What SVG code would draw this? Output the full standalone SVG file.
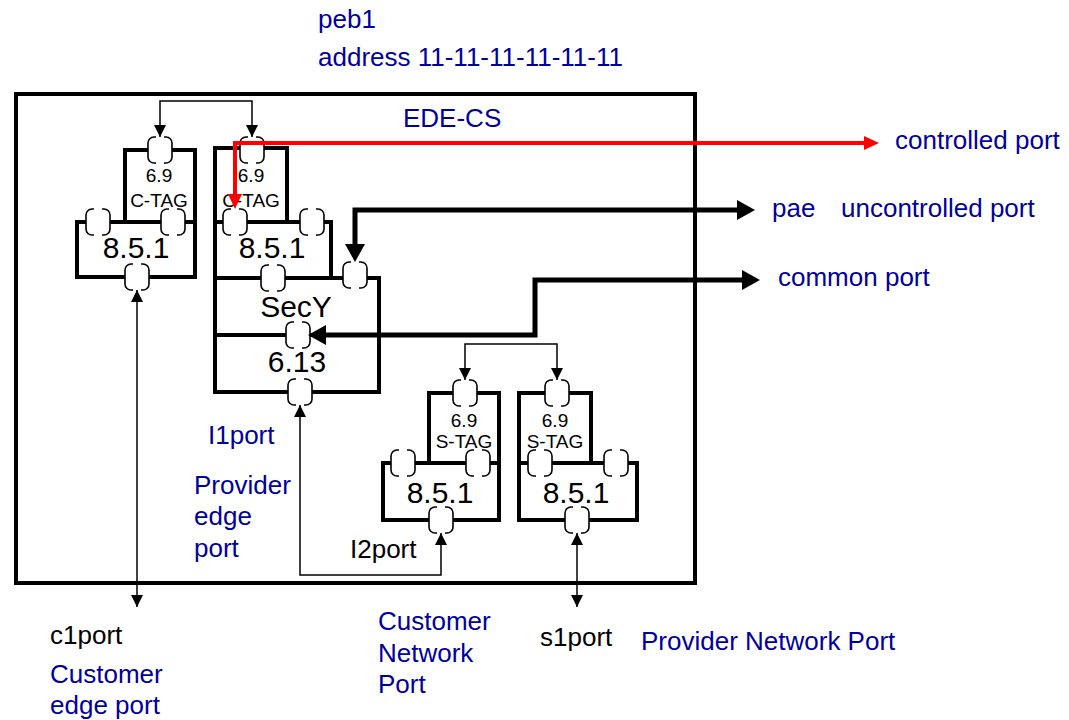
<svg xmlns="http://www.w3.org/2000/svg" width="1069" height="720" viewBox="0 0 1069 720">
<style>
text{font-family:"Liberation Sans",Arial,sans-serif}
.lb{font-size:26px;fill:#00009c}
.bk{font-size:26px;fill:#000}
.box{fill:none;stroke:#000;stroke-width:4;stroke-linejoin:miter}
.big{font-size:30px;text-anchor:middle}
.sm{font-size:19px;text-anchor:middle}
.thin{fill:none;stroke:#000;stroke-width:1.5}
.thick{fill:none;stroke:#000;stroke-width:5}
.red{fill:none;stroke:#ff0000;stroke-width:4}
.pb{fill:none;stroke:#000;stroke-width:1.6}
</style>
<defs>
<g id="port">
<rect x="-12" y="-13" width="24" height="26" rx="6" fill="#fff"/>
<path class="pb" d="M-4,-13 H-6 A6,6 0 0 0 -12,-7 V7 A6,6 0 0 0 -6,13 H-4 M4,-13 H6 A6,6 0 0 1 12,-7 V7 A6,6 0 0 1 6,13 H4"/>
</g>
<marker id="a" viewBox="0 0 12 12" refX="12" refY="6" markerWidth="12" markerHeight="12" markerUnits="userSpaceOnUse" orient="auto-start-reverse"><path d="M0,0 L12,6 L0,12 z" fill="#000"/></marker>
<marker id="tk" viewBox="0 0 18 20" refX="1" refY="10" markerWidth="18" markerHeight="20" markerUnits="userSpaceOnUse" orient="auto-start-reverse"><path d="M0,0 L18,10 L0,20 z" fill="#000"/></marker>
<marker id="rd" viewBox="0 0 15 14" refX="1" refY="7" markerWidth="15" markerHeight="14" markerUnits="userSpaceOnUse" orient="auto-start-reverse"><path d="M0,0 L15,7 L0,14 z" fill="#ff0000"/></marker>
</defs>
<rect width="1069" height="720" fill="#fff"/>

<g id="peb1">
<rect class="box" x="16" y="94" width="679" height="489"/>
<text class="lb" x="318" y="28">peb1</text>
<text class="lb" x="318" y="66">address 11-11-11-11-11-11</text>
<text class="lb" x="403" y="127">EDE-CS</text>
</g>

<g id="ctag-left">
<rect class="box" x="125" y="150" width="70" height="72"/>
<rect class="box" x="77" y="222" width="118" height="55"/>
<text class="sm" x="159" y="182">6.9</text>
<text class="sm" x="159" y="207">C-TAG</text>
<text class="big" x="136" y="258">8.5.1</text>
<use href="#port" x="160" y="150"/>
<use href="#port" x="98" y="222"/>
<use href="#port" x="173" y="222"/>
<use href="#port" x="137" y="277"/>
</g>

<g id="ctag-secy">
<rect class="box" x="215" y="148" width="72" height="74"/>
<rect class="box" x="215" y="222" width="116" height="56"/>
<rect class="box" x="215" y="278" width="164" height="57"/>
<rect class="box" x="215" y="335" width="164" height="57"/>
<text class="sm" x="251" y="182">6.9</text>
<text class="sm" x="251" y="207">C-TAG</text>
<text class="big" x="272" y="258">8.5.1</text>
<text class="big" x="296" y="317">SecY</text>
<text class="big" x="297" y="372">6.13</text>
<use href="#port" x="252" y="150"/>
<use href="#port" x="235" y="222"/>
<use href="#port" x="312" y="222"/>
<use href="#port" x="273" y="278"/>
<use href="#port" x="355" y="275"/>
<use href="#port" x="298" y="335"/>
<use href="#port" x="300" y="392"/>
</g>

<g id="stag-left">
<rect class="box" x="429" y="393" width="70" height="70"/>
<rect class="box" x="383" y="463" width="116" height="57"/>
<text class="sm" x="464" y="427">6.9</text>
<text class="sm" x="464" y="448">S-TAG</text>
<text class="big" x="440" y="503">8.5.1</text>
<use href="#port" x="465" y="393"/>
<use href="#port" x="403" y="463"/>
<use href="#port" x="478" y="463"/>
<use href="#port" x="441" y="520"/>
</g>

<g id="stag-right">
<rect class="box" x="519" y="393" width="72" height="70"/>
<rect class="box" x="519" y="463" width="118" height="57"/>
<text class="sm" x="555" y="427">6.9</text>
<text class="sm" x="555" y="448">S-TAG</text>
<text class="big" x="576" y="503">8.5.1</text>
<use href="#port" x="557" y="393"/>
<use href="#port" x="540" y="463"/>
<use href="#port" x="616" y="463"/>
<use href="#port" x="577" y="520"/>
</g>

<g id="connectors">
<path class="thin" d="M160,137 V101 H252 V137" marker-start="url(#a)" marker-end="url(#a)"/>
<path class="thin" d="M465,380 V344 H557 V380" marker-start="url(#a)" marker-end="url(#a)"/>
<path class="thin" d="M300,405 V575 H441 V533" marker-start="url(#a)" marker-end="url(#a)"/>
<path class="thin" d="M137,290 V607" marker-start="url(#a)" marker-end="url(#a)"/>
<path class="thin" d="M577,533 V607" marker-start="url(#a)" marker-end="url(#a)"/>
<path class="thick" d="M355,245 V210 H738" marker-start="url(#tk)" marker-end="url(#tk)"/>
<path class="thick" d="M325,335 H535 V280 H743" marker-start="url(#tk)" marker-end="url(#tk)"/>
<path class="red" d="M235,195 V143 H865" marker-start="url(#rd)" marker-end="url(#rd)"/>
</g>

<g id="labels">
<text class="lb" x="895" y="149">controlled port</text>
<text class="lb" x="772" y="217">pae</text>
<text class="lb" x="841" y="217">uncontrolled port</text>
<text class="lb" x="778" y="286">common port</text>
<text class="lb" x="208" y="444">I1port</text>
<text class="lb" x="194" y="494">Provider</text>
<text class="lb" x="194" y="525">edge</text>
<text class="lb" x="194" y="557">port</text>
<text class="bk" x="350" y="558">I2port</text>
<text class="bk" x="50" y="644">c1port</text>
<text class="lb" x="50" y="683">Customer</text>
<text class="lb" x="50" y="714">edge port</text>
<text class="lb" x="378" y="630">Customer</text>
<text class="lb" x="378" y="662">Network</text>
<text class="lb" x="378" y="693">Port</text>
<text class="bk" x="540" y="646">s1port</text>
<text class="lb" x="641" y="650">Provider Network Port</text>
</g>
</svg>
